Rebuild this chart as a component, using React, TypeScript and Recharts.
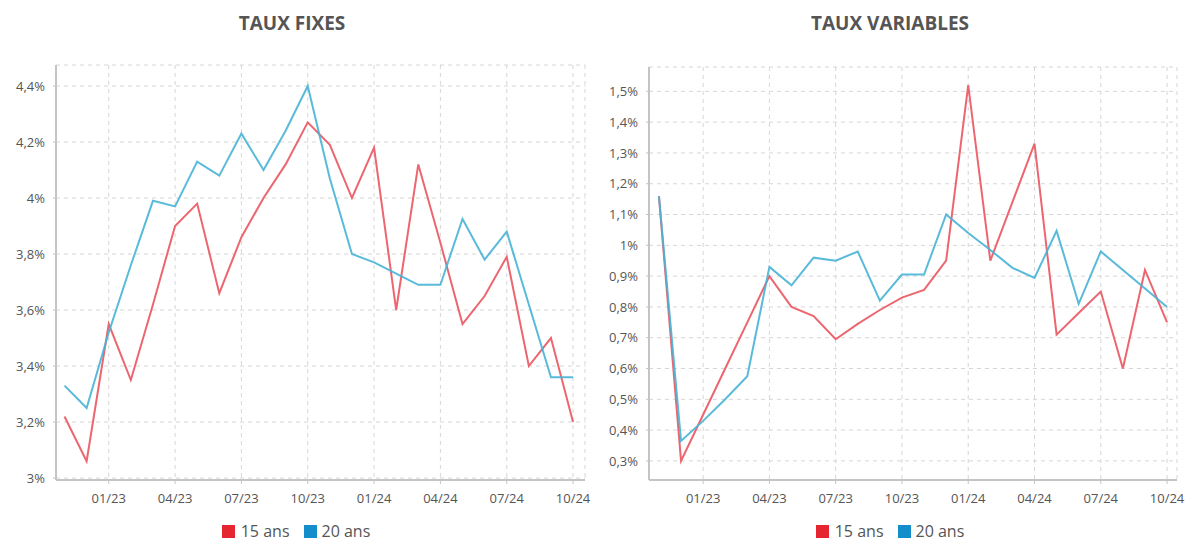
import React from 'react';
import { LineChart, Line, XAxis, YAxis, CartesianGrid } from 'recharts';

// monthly points, 11/22 -> 10/24
const months = [
  '11/22', '12/22', '01/23', '02/23', '03/23', '04/23', '05/23', '06/23',
  '07/23', '08/23', '09/23', '10/23', '11/23', '12/23', '01/24', '02/24',
  '03/24', '04/24', '05/24', '06/24', '07/24', '08/24', '09/24', '10/24',
];
const monthTicks = [2, 5, 8, 11, 14, 17, 20, 23];

const fixes15 = [
  3.22, 3.06, 3.55, 3.35, 3.62, 3.9, 3.98, 3.66, 3.86, 4.0, 4.12, 4.27,
  4.19, 4.0, 4.18, 3.6, 4.12, 3.84, 3.55, 3.65, 3.79, 3.4, 3.5, 3.2,
];
const fixes20 = [
  3.33, 3.25, 3.52, 3.76, 3.99, 3.97, 4.13, 4.08, 4.23, 4.1, 4.24, 4.4,
  4.07, 3.8, 3.77, 3.73, 3.69, 3.69, 3.925, 3.78, 3.88, 3.62, 3.36, 3.36,
];
const variables15 = [
  1.16, 0.3, 0.45, 0.6, 0.75, 0.9, 0.8, 0.77, 0.695, 0.745, 0.79, 0.83,
  0.855, 0.95, 1.52, 0.95, 1.14, 1.33, 0.71, 0.78, 0.85, 0.6, 0.92, 0.75,
];
const variables20 = [
  1.16, 0.365, 0.43, 0.5, 0.575, 0.93, 0.87, 0.96, 0.95, 0.98, 0.82, 0.905,
  0.905, 1.1, 1.04, 0.985, 0.927, 0.894, 1.047, 0.81, 0.98, 0.92, 0.86, 0.8,
];

const fixesTicks = [3, 3.2, 3.4, 3.6, 3.8, 4, 4.2, 4.4];
const variablesTicks = [0.3, 0.4, 0.5, 0.6, 0.7, 0.8, 0.9, 1, 1.1, 1.2, 1.3, 1.4, 1.5];

const RED = '#ec6670';
const BLUE = '#47b3d6';
const FONT = '"Open Sans", sans-serif';

const pct = (v: number) => `${Number(v.toFixed(1)).toString().replace('.', ',')}%`;

const buildData = (a: number[], b: number[]) =>
  months.map((m, i) => ({ i, month: m, s15: a[i], s20: b[i] }));

interface PanelProps {
  title: string;
  titleX: number;
  legendX: number;
  left: number;
  top: number;
  right: number;
  data: { i: number; s15: number; s20: number }[];
  yDomain: [number, number];
  yTicks: number[];
  xDomain: [number, number];
}

const Panel: React.FC<PanelProps> = ({ title, titleX, legendX, left, top, right, data, yDomain, yTicks, xDomain }) => (
  <>
    <div
      style={{
        position: 'absolute', top: 10, left: titleX - 150, width: 300, textAlign: 'center',
        fontFamily: FONT, fontWeight: 700, fontSize: 19, color: '#555', lineHeight: '26px',
      }}
    >
      {title}
    </div>
    <div style={{ position: 'absolute', left, top: 0 }}>
      <LineChart width={600} height={544} data={data} margin={{ top, right, left: 0, bottom: 34 }}>
        <CartesianGrid stroke="#d6d6d6" strokeDasharray="4 4" />
        <XAxis
          dataKey="i"
          type="number"
          domain={xDomain}
          ticks={monthTicks}
          allowDataOverflow
          height={30}
          tickFormatter={(v: number) => months[v]}
          axisLine={{ stroke: '#c4c4c4', strokeWidth: 2 }}
          tickLine={{ stroke: '#c4c4c4' }}
          tickSize={4}
          tickMargin={10}
          tick={{ fill: '#555', fontSize: 13, fontFamily: FONT }}
        />
        <YAxis
          type="number"
          domain={yDomain}
          ticks={yTicks}
          allowDataOverflow
          width={56}
          tickFormatter={pct}
          axisLine={{ stroke: '#c4c4c4', strokeWidth: 2 }}
          tickLine={{ stroke: '#c4c4c4' }}
          tickSize={3}
          tickMargin={8}
          tick={{ fill: '#555', fontSize: 13, fontFamily: FONT }}
        />
        <Line dataKey="s15" stroke={RED} strokeWidth={2} dot={false} isAnimationActive={false} />
        <Line dataKey="s20" stroke={BLUE} strokeWidth={2} dot={false} strokeOpacity={0.9} isAnimationActive={false} />
      </LineChart>
    </div>
    <div
      style={{
        position: 'absolute', top: 521, left: legendX - 100, width: 200, height: 20, display: 'flex',
        justifyContent: 'center', alignItems: 'center', fontFamily: FONT, fontSize: 16, lineHeight: '20px',
        color: '#555',
      }}
    >
      <span style={{ width: 13, height: 13, background: '#e5252f', marginRight: 6 }} />
      <span style={{ marginRight: 14 }}>15 ans</span>
      <span style={{ width: 13, height: 13, background: '#148dcb', marginRight: 5 }} />
      <span>20 ans</span>
    </div>
  </>
);

export default function App() {
  return (
    <div style={{ position: 'absolute', left: 0, top: 0, width: 1187, height: 544, background: '#fff', overflow: 'hidden' }}>
      <Panel
        title="TAUX FIXES"
        titleX={292}
        legendX={296}
        left={0}
        top={65}
        right={15}
        data={buildData(fixes15, fixes20)}
        yDomain={[2.993, 4.475]}
        yTicks={fixesTicks}
        xDomain={[-0.385, 23.54]}
      />
      <Panel
        title="TAUX VARIABLES"
        titleX={890}
        legendX={890}
        left={593}
        top={67}
        right={16}
        data={buildData(variables15, variables20)}
        yDomain={[0.238, 1.579]}
        yTicks={variablesTicks}
        xDomain={[-0.45, 23.45]}
      />
    </div>
  );
}
